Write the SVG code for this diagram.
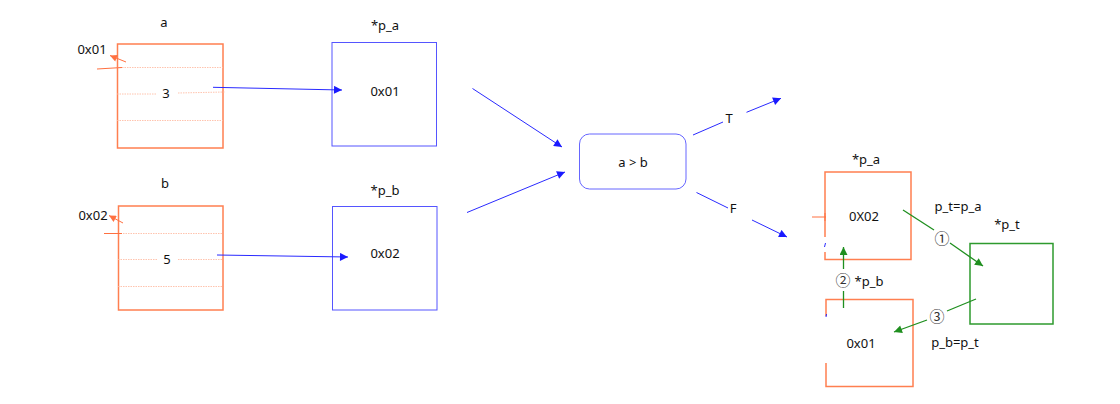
<svg xmlns="http://www.w3.org/2000/svg" width="1120" height="404" viewBox="0 0 1120 404">
<defs>
<marker id="mb" viewBox="0 0 10 10" refX="10" refY="5" markerWidth="10" markerHeight="8" markerUnits="userSpaceOnUse" orient="auto"><path d="M0,0 L10,5 L0,10 Z" fill="#1a1aff"/></marker>
<marker id="mg" viewBox="0 0 10 10" refX="10" refY="5" markerWidth="10" markerHeight="8" markerUnits="userSpaceOnUse" orient="auto"><path d="M0,0 L10,5 L0,10 Z" fill="#1f8f1f"/></marker>
<marker id="mo" viewBox="0 0 10 10" refX="10" refY="5" markerWidth="9" markerHeight="7" markerUnits="userSpaceOnUse" orient="auto"><path d="M0,0 L10,5 L0,10 Z" fill="#ff7040"/></marker>
</defs>
<style>
text{font-family:"Noto Sans","Noto Sans CJK SC",sans-serif;font-size:13px;fill:#111;text-anchor:middle;dominant-baseline:central}
.num{font-size:15px;fill:#333}
.ob{fill:none;stroke:#ff7f50;stroke-width:1.5}
.bb{fill:none;stroke:#5555ff;stroke-width:1}
.gb{fill:none;stroke:#2e9a2e;stroke-width:1.5}
.dot{stroke:#ffb59a;stroke-width:0.8;stroke-dasharray:1.5 1;fill:none}
.bl{stroke:#2a2aff;stroke-width:1;fill:none}
.gl{stroke:#1f8f1f;stroke-width:1.3;fill:none}
.ol{stroke:#ff7040;stroke-width:1;fill:none}
</style>
<rect width="1120" height="404" fill="#fff"/>

<g id="node-a">
<rect class="ob" x="117.5" y="44" width="105.5" height="104"/>
<line class="dot" x1="117" y1="67.5" x2="223" y2="67.5"/>
<line class="dot" x1="117" y1="94" x2="157" y2="94"/>
<line class="dot" x1="178" y1="93" x2="225" y2="92"/>
<line class="dot" x1="117" y1="120.5" x2="223" y2="120.5"/>
<text x="164" y="22">a</text>
<text x="166" y="93">3</text>
<text x="92" y="49">0x01</text>
<line class="ol" x1="97" y1="69" x2="122" y2="67.5"/>
<line class="ol" x1="126" y1="62" x2="110" y2="55.5" marker-end="url(#mo)"/>
</g>

<g id="node-b">
<rect class="ob" x="118.5" y="206" width="104.5" height="104"/>
<line class="dot" x1="118" y1="233.5" x2="223" y2="233.5"/>
<line class="dot" x1="118" y1="259.5" x2="157" y2="259.5"/>
<line class="dot" x1="178" y1="259.5" x2="223" y2="259.5"/>
<line class="dot" x1="118" y1="286.5" x2="223" y2="286.5"/>
<text x="165" y="183">b</text>
<text x="167" y="259">5</text>
<text x="93" y="215">0x02</text>
<line class="ol" x1="104" y1="233.5" x2="122" y2="233.5"/>
<line class="ol" x1="123" y1="223" x2="109" y2="215.5" marker-end="url(#mo)"/>
</g>

<g id="node-pa">
<rect class="bb" x="332" y="42.5" width="104.5" height="103.5"/>
<text x="385" y="25">*p_a</text>
<text x="385" y="91">0x01</text>
</g>

<g id="node-pb">
<rect class="bb" x="332.5" y="206.5" width="104.5" height="103.5"/>
<text x="385" y="190">*p_b</text>
<text x="385" y="253">0x02</text>
</g>

<g id="node-cmp">
<rect x="579.5" y="134" width="106.5" height="55" rx="10" ry="10" fill="none" stroke="#6666ff" stroke-width="1"/>
<text x="633" y="162">a &gt; b</text>
</g>

<g id="node-pa2">
<path class="ob" d="M825,237 V172 H911 V259.5 H825 V252"/>
<line x1="825.5" y1="243" x2="824.5" y2="247" stroke="#2a2aff" stroke-width="1"/>
<line class="ol" x1="812" y1="217" x2="826" y2="217"/>
<line class="ol" x1="825" y1="213" x2="825" y2="221"/>
<text x="866" y="159">*p_a</text>
<text x="864" y="216">0X02</text>
</g>

<g id="node-pb2">
<path class="ob" d="M826,316 V299.5 H913 V386.5 H826 V363"/>
<line x1="826.5" y1="314" x2="826" y2="317" stroke="#2a2aff" stroke-width="1"/>
<text x="869" y="281">*p_b</text>
<text x="861" y="343">0x01</text>
</g>

<g id="node-pt">
<rect class="gb" x="970" y="243.5" width="83" height="80.5"/>
<text x="1007" y="224">*p_t</text>
</g>

<g id="connectors">
<line class="bl" x1="213" y1="87.3" x2="342" y2="90" marker-end="url(#mb)"/>
<line class="bl" x1="217" y1="255" x2="348" y2="257" marker-end="url(#mb)"/>
<line class="bl" x1="472.5" y1="88.5" x2="562" y2="147" marker-end="url(#mb)"/>
<line class="bl" x1="467" y1="212.5" x2="565" y2="172" marker-end="url(#mb)"/>
<line class="bl" x1="693" y1="135" x2="723" y2="122"/>
<text x="729" y="118">T</text>
<line class="bl" x1="746.5" y1="112.3" x2="781" y2="98.3" marker-end="url(#mb)"/>
<line class="bl" x1="696.5" y1="192.5" x2="728" y2="208"/>
<text x="733" y="208">F</text>
<line class="bl" x1="752" y1="220" x2="787" y2="237" marker-end="url(#mb)"/>

<line class="gl" x1="903" y1="210" x2="934" y2="230"/>
<text class="num" x="942" y="238">①</text>
<line class="gl" x1="950" y1="243" x2="983" y2="266" marker-end="url(#mg)"/>
<text x="958" y="206">p_t=p_a</text>

<line class="gl" x1="843.5" y1="308" x2="843.5" y2="291"/>
<text class="num" x="843" y="280">②</text>
<line class="gl" x1="843.5" y1="269" x2="843.5" y2="247" marker-end="url(#mg)"/>

<line class="gl" x1="976" y1="299" x2="947" y2="311"/>
<text class="num" x="937" y="316">③</text>
<line class="gl" x1="927" y1="320" x2="894" y2="332" marker-end="url(#mg)"/>
<text x="955" y="342">p_b=p_t</text>
</g>
</svg>
